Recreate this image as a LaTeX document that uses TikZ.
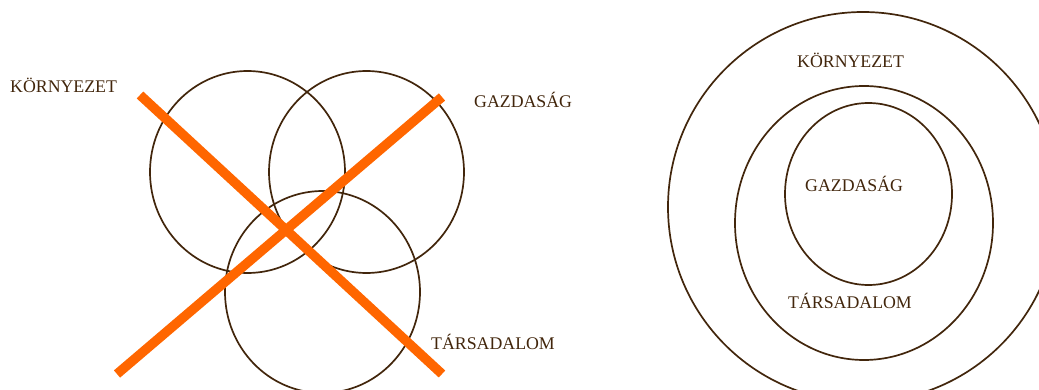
\documentclass[tikz,border=0pt]{standalone}
\usepackage{fontspec}
\setmainfont{Liberation Serif}
\usetikzlibrary{shapes.geometric}
\definecolor{ink}{RGB}{66,38,12}
\definecolor{cross}{RGB}{255,102,0}
\tikzset{
  ring/.style={ellipse, draw=ink, line width=1.7pt, inner sep=0pt, fill=none},
  lbl/.style={anchor=base west, inner sep=0pt, text=ink, font=\fontsize{17.8}{20}\selectfont},
  xline/.style={draw=cross, line width=9.5pt, line cap=butt}
}
\begin{document}
\begin{tikzpicture}[x=1pt,y=-1pt]
\useasboundingbox (0,0) rectangle (1039,390);
\clip (0,0) rectangle (1039,390);
% left: overlapping circles
\node[ring, minimum width=195pt, minimum height=202pt] (env) at (247.5,172) {};
\node[ring, minimum width=195pt, minimum height=202pt] (eco) at (366.5,172) {};
\node[ring, minimum width=195pt, minimum height=202pt] (soc) at (322.5,292) {};
\node[lbl] (lenv) at (10,93) {KÖRNYEZET};
\node[lbl] (leco) at (474,108) {GAZDASÁG};
\node[lbl] (lsoc) at (431,349) {TÁRSADALOM};
% cross
\coordinate (a1) at (140,95);
\coordinate (a2) at (442,374);
\coordinate (b1) at (117,374);
\coordinate (b2) at (442,97);
\draw[xline] (a1) -- (a2);
\draw[xline] (b1) -- (b2);
% right: nested
\node[ring, minimum width=390pt, minimum height=390pt] (outer) at (863,207) {};
\node[ring, minimum width=258pt, minimum height=274pt] (mid) at (864,223) {};
\node[ring, minimum width=167pt, minimum height=182pt] (inner) at (868.5,194) {};
\node[lbl] (renv) at (797,68) {KÖRNYEZET};
\node[lbl] (reco) at (805,192) {GAZDASÁG};
\node[lbl] (rsoc) at (788,308) {TÁRSADALOM};
\end{tikzpicture}
\end{document}
